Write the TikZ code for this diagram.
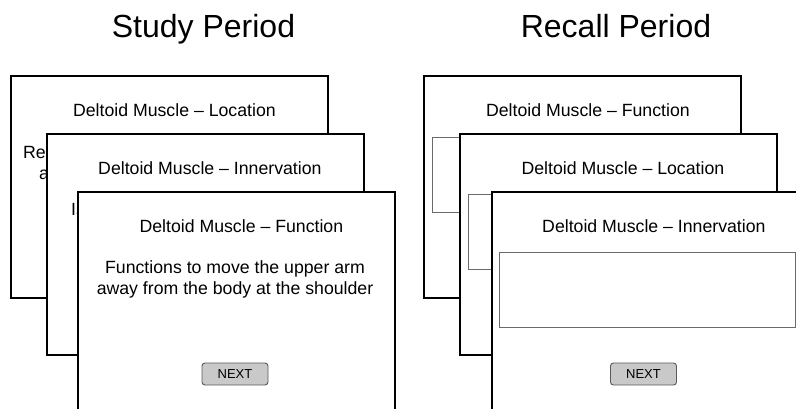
\documentclass[tikz,border=0pt]{standalone}
\usepackage{fontspec}
\setmainfont{Liberation Sans}
\usepackage{xcolor}
\usetikzlibrary{calc}
\definecolor{btnfill}{HTML}{C9C9C9}
\definecolor{btnline}{HTML}{5A5A5A}
\definecolor{boxline}{HTML}{6A6A6A}

\begin{document}
\begin{tikzpicture}[
    x=1pt, y=1pt,
    head/.style={font=\fontsize{32}{36}\selectfont, anchor=base, inner sep=0pt},
    card/.style={draw=black, fill=white, line width=1.8pt, anchor=north west,
        minimum width=317pt, minimum height=#1, inner sep=0pt},
    ttl/.style={font=\fontsize{17.7}{21}\selectfont, anchor=base, inner sep=0pt},
    body/.style={font=\fontsize{17.7}{21}\selectfont, align=center, inner sep=0pt},
    frag/.style={font=\fontsize{17.7}{21}\selectfont, anchor=base west, inner sep=0pt},
    ansbox/.style={draw=boxline, line width=0.9pt, anchor=north west,
        minimum width=299pt, minimum height=75pt, inner sep=0pt},
    nextbtn/.style={draw=btnline, fill=btnfill, line width=0.9pt, rounded corners=3pt,
        minimum width=66pt, minimum height=22pt, inner sep=0pt,
        font=\fontsize{13}{15}\selectfont},
  ]
  \useasboundingbox (0,0) rectangle (796,-409);
  \clip (0,0) rectangle (796,-409);
  \node[head] (hs) at (203.5,-38) {Study Period};
  \node[head] (hr) at (616,-38) {Recall Period};
  % study period
  \node[card=222pt] (s1) at (10,-75) {};
  \node[ttl] (s1t) at ($(s1.north)+(5,-42)$) {Deltoid Muscle -- Location};
  \node[frag] (s1a) at (23,-159) {Re};
  \node[frag] (s1b) at (39,-180) {a};
  \node[card=221pt] (s2) at (46,-133) {};
  \node[ttl] (s2t) at ($(s2.north)+(4.5,-42)$) {Deltoid Muscle -- Innervation};
  \node[frag] (s2a) at (71,-216) {Is};
  \node[card=240pt] (s3) at (77,-191) {};
  \node[ttl] (s3t) at ($(s3.north)+(5,-42)$) {Deltoid Muscle -- Function};
  \node[body] (s3b) at (235,-279) {Functions to move the upper arm\\away from the body at the shoulder};
  \node[nextbtn] (s3n) at (235,-374) {NEXT};
  % recall period
  \node[card=222pt] (r1) at (423,-75) {};
  \node[ttl] (r1t) at ($(r1.north)+(5.5,-42)$) {Deltoid Muscle -- Function};
  \node[ansbox] (r1a) at ($(r1.north west)+(9,-62)$) {};
  \node[card=221pt] (r2) at (459,-133) {};
  \node[ttl] (r2t) at ($(r2.north)+(4.5,-42)$) {Deltoid Muscle -- Location};
  \node[ansbox] (r2a) at ($(r2.north west)+(9,-61)$) {};
  \node[card=240pt] (r3) at (491,-191) {};
  \node[ttl] (r3t) at ($(r3.north)+(3.5,-42)$) {Deltoid Muscle -- Innervation};
  \node[ansbox, minimum width=296pt] (r3a) at ($(r3.north west)+(8,-61)$) {};
  \node[nextbtn] (r3n) at (643.5,-374) {NEXT};
\end{tikzpicture}
\end{document}
